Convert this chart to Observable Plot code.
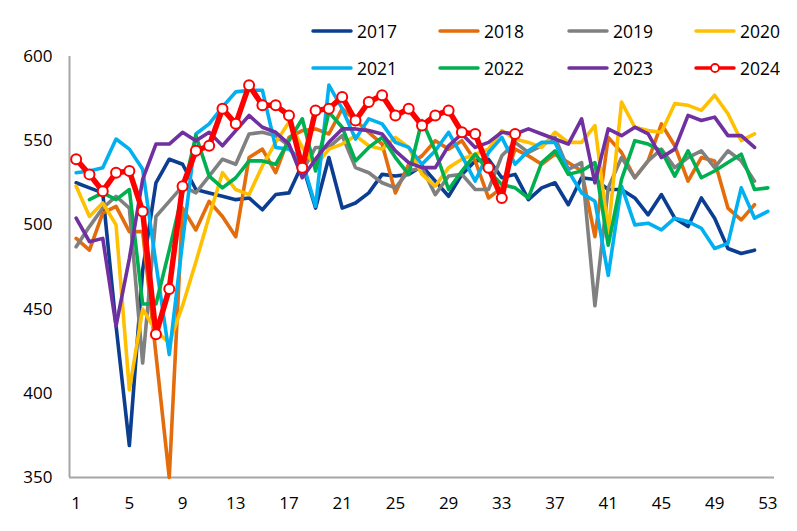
<!DOCTYPE html>
<html><head><meta charset="utf-8">
<script src="https://cdn.jsdelivr.net/npm/d3@7"></script>
<script src="https://cdn.jsdelivr.net/npm/@observablehq/plot@0.6"></script>
<style>
body{margin:0;background:#fff;font-family:"Open Sans",sans-serif;}
#wrap{position:relative;width:797px;height:531px;}
.item{position:absolute;display:flex;align-items:center;font-size:17.5px;color:#000;height:22px;line-height:22px;}
.item span{margin-left:4px;}
</style></head><body><div id="wrap"></div>
<script>
const years = ["2017","2018","2019","2020","2021","2022","2023","2024"];
const colors = ["#0b3d91","#e46c0a","#808080","#ffc000","#00b0f0","#00b050","#7030a0","#ff0000"];
const xTicks = [1,5,9,13,17,21,25,29,33,37,41,45,49,53];
const yTicks = [350,400,450,500,550,600];

const v2017 = [525,522,519,440,369,473,525,539,536,521,519,517,515,516,509,518,519,536,510,540,510,513,519,530,529,530,535,526,517,530,538,539,528,530,515,522,525,512,528,527,521,521,516,506,518,504,499,516,504,486,483,485];
const v2018 = [492,485,507,511,496,496,423,350,510,497,514,505,493,540,545,531,552,556,557,554,569,562,555,548,519,536,541,550,545,550,538,516,522,545,541,536,542,537,532,493,552,543,528,538,560,547,526,540,538,510,503,512];
const v2019 = [487,499,510,517,510,418,505,514,523,519,529,539,536,554,555,553,547,532,546,546,553,534,531,525,522,532,534,518,529,530,521,521,541,549,543,547,552,533,537,452,522,540,528,538,545,534,540,544,534,544,538,526];
const v2020 = [523,505,513,500,402,450,437,430,452,478,505,531,521,518,535,549,561,546,535,545,548,553,547,545,552,546,530,523,534,539,542,545,556,551,549,546,555,549,549,559,496,573,558,556,555,572,571,568,577,566,550,554];
const v2021 = [531,532,534,551,545,533,477,423,490,554,560,570,579,580,580,546,545,538,511,583,569,551,563,560,549,546,536,544,555,541,526,543,552,536,544,549,549,532,519,514,470,523,500,501,497,504,502,498,486,489,522,504,508];
const v2022 = [null,515,519,515,521,453,453,485,519,553,529,522,528,538,538,536,550,563,532,567,558,538,546,552,540,530,562,544,521,532,542,532,524,522,516,537,544,530,532,537,488,527,550,548,544,529,544,528,532,537,542,521,522];
const v2023 = [504,490,492,440,480,527,548,548,555,550,555,547,556,565,558,555,548,528,539,549,557,557,556,554,544,537,534,534,547,554,546,549,555,554,557,554,551,548,563,525,557,553,558,554,540,545,565,562,564,553,553,546];
const v2024 = [539,530,520,531,532,508,435,462,523,544,547,569,560,583,571,571,565,534,568,569,576,562,573,577,565,569,559,565,568,555,554,534,516,554];

const series = [v2017,v2018,v2019,v2020,v2021,v2022,v2023,v2024];
const rows = series.map((vals, k) =>
  vals.map((v, i) => ({week: i + 1, value: v, year: years[k]})).filter(d => d.value != null)
);

const lineMarks = rows.map((data, k) =>
  Plot.lineY(data, {
    x: "week", y: "value",
    stroke: colors[k],
    strokeWidth: k === 7 ? 5.5 : 3.6,
    strokeLinejoin: "round", strokeLinecap: "round"
  })
);

const chart = Plot.plot({
  width: 797, height: 531,
  marginLeft: 69, marginRight: 23, marginTop: 56, marginBottom: 54,
  style: {fontFamily: '"Open Sans", sans-serif', fontSize: "17px", color: "#000", background: "#fff"},
  x: {domain: [0.5, 53.5], ticks: xTicks, tickSize: 0, tickPadding: 19, label: null, tickFormat: d => String(d)},
  y: {domain: [350, 600], ticks: yTicks, tickSize: 0, tickPadding: 17, label: null},
  marks: [
    Plot.ruleX([0.5], {stroke: "#a6a6a6", strokeWidth: 2}),
    Plot.ruleY([350], {stroke: "#a6a6a6", strokeWidth: 2}),
    ...lineMarks,
    Plot.dot(rows[7], {x: "week", y: "value", r: 5, fill: "#fff", stroke: colors[7], strokeWidth: 2})
  ]
});

const wrap = document.getElementById("wrap");
wrap.appendChild(chart);

const legX = [311, 438, 567, 694];
const legY = [31, 68];
years.forEach((yr, k) => {
  const col = k % 4, row = Math.floor(k / 4);
  const div = document.createElement("div");
  div.className = "item";
  div.style.left = legX[col] + "px";
  div.style.top = (legY[row] - 11) + "px";
  const dot = k === 7 ? `<circle cx="21" cy="6" r="4" fill="#fff" stroke="${colors[k]}" stroke-width="1.8"/>` : "";
  div.innerHTML = `<svg width="42" height="12"><line x1="2" y1="6" x2="40" y2="6" stroke="${colors[k]}" stroke-width="3.5" stroke-linecap="round"/>${dot}</svg><span>${yr}</span>`;
  wrap.appendChild(div);
});
</script></body></html>
